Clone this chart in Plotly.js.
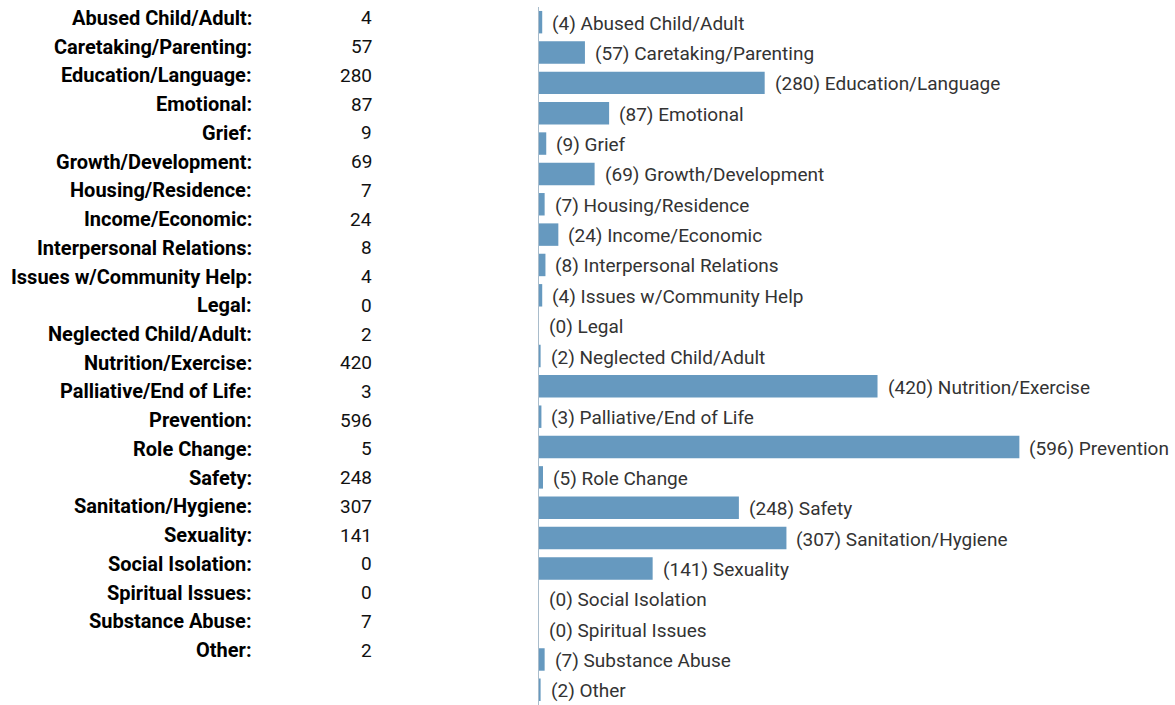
<!DOCTYPE html>
<html>
<head>
<meta charset="utf-8">
<script src="https://cdn.plot.ly/plotly-3.0.1.min.js"></script>
<style>html,body{margin:0;padding:0;background:#fff;}#chart{width:1175px;height:705px;}</style>
</head>
<body>
<div id="chart"></div>
<script>
const categories = ["Abused Child/Adult","Caretaking/Parenting","Education/Language","Emotional","Grief","Growth/Development","Housing/Residence","Income/Economic","Interpersonal Relations","Issues w/Community Help","Legal","Neglected Child/Adult","Nutrition/Exercise","Palliative/End of Life","Prevention","Role Change","Safety","Sanitation/Hygiene","Sexuality","Social Isolation","Spiritual Issues","Substance Abuse","Other"];
const counts = [4,57,280,87,9,69,7,24,8,4,0,2,420,3,596,5,248,307,141,0,0,7,2];

const W = 1175, H = 705;
const FONT = "Roboto, 'Noto Sans', Arial, sans-serif";

const annotations = [];
// left table
categories.forEach((c, i) => {
  annotations.push({xref:'x2', yref:'y2', x:254, y:i, text:'<b>'+c+':</b>', showarrow:false, xanchor:'right', yanchor:'middle', font:{family:FONT, size:20, color:'#000'}});
  annotations.push({xref:'x2', yref:'y2', x:374, y:i, text:String(counts[i]), showarrow:false, xanchor:'right', yanchor:'middle', font:{family:FONT, size:19, color:'#111'}});
});
// bar labels
categories.forEach((c, i) => {
  annotations.push({xref:'x', yref:'y', x:counts[i], y:c, text:'('+counts[i]+') '+c, showarrow:false, xanchor:'left', yanchor:'middle', xshift:8, yshift:-1, font:{family:FONT, size:19, color:'#333'}});
});

const trace = {
  type:'bar', orientation:'h', x:counts, y:categories,
  marker:{color:'#6699bf'}, hoverinfo:'none', xaxis:'x', yaxis:'y'
};

const barLeft = 539, pxPerUnit = 0.806;
const tableRow = 28.73, tableTop = 18 - tableRow/2, tableBottom = 650 + tableRow/2;

const layout = {
  width:W, height:H, margin:{l:0,r:0,t:0,b:0}, showlegend:false,
  paper_bgcolor:'#fff', plot_bgcolor:'#fff',
  bargap:0.26,
  xaxis:{domain:[barLeft/W,1], range:[0,(W-barLeft)/pxPerUnit], showgrid:false, zeroline:false, showticklabels:false, showline:false, ticks:''},
  yaxis:{domain:[0,1-7/H], range:[22.5,-0.5], type:'category', showgrid:false, zeroline:false, showticklabels:false, ticks:'', showline:true, linecolor:'#a9bccb', linewidth:1, anchor:'x'},
  xaxis2:{domain:[0,500/W], range:[0,500], visible:false, anchor:'y2'},
  yaxis2:{domain:[1-tableBottom/H,1-tableTop/H], range:[22.5,-0.5], visible:false, anchor:'x2'},
  annotations:annotations,
  font:{family:FONT}
};

Plotly.newPlot('chart',[trace],layout,{displayModeBar:false,staticPlot:true});
</script>
</body>
</html>
